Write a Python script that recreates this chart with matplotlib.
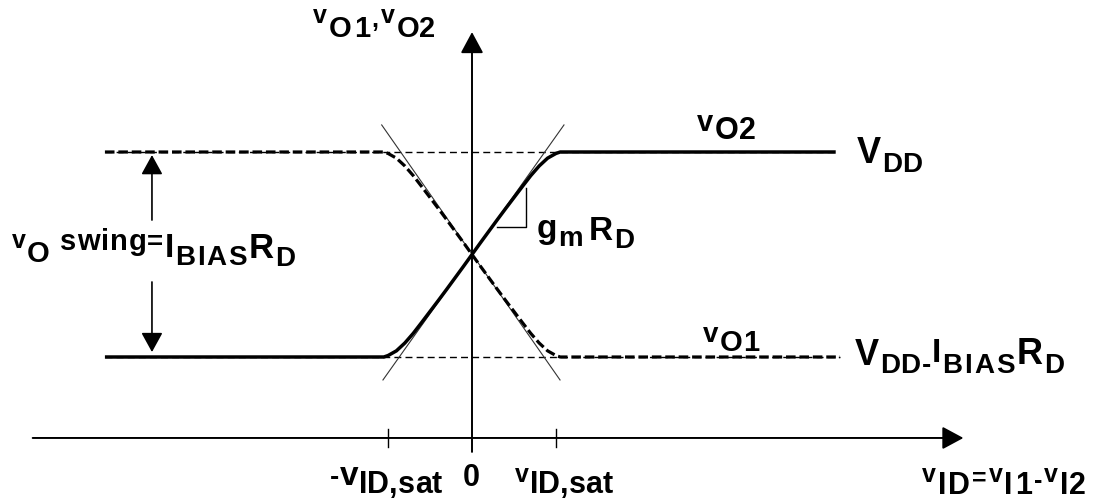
import matplotlib
matplotlib.use("Agg")
import matplotlib.pyplot as plt

W, H = 1099, 499
FONT = ["Liberation Sans", "DejaVu Sans"]
WEIGHT = "bold"

# ---------------- data (normalised units) ----------------
# x in units of v_ID,sat ; y: 0 = V_DD - I_BIAS*R_D, 1 = V_DD
VID_SAT = 1.0
V_HIGH = 1.0
V_LOW = 0.0
X_LEFT = -4.37
X_RIGHT = 4.33

vo2_x = [-4.37, -1.05, -1.0, -0.9, -0.8, -0.7, -0.6, -0.5, -0.4, -0.3, -0.2, -0.1, 0.0,
         0.1, 0.2, 0.3, 0.4, 0.5, 0.6, 0.7, 0.8, 0.9, 1.0, 1.05, 4.33]
vo2_y = [0.0, 0.0, 0.007, 0.03, 0.068, 0.115, 0.168, 0.222, 0.276, 0.331, 0.387, 0.443, 0.5,
         0.557, 0.613, 0.669, 0.724, 0.778, 0.832, 0.885, 0.932, 0.97, 0.993, 1.0, 1.0]

vo1_x = [-4.37, -1.05, -1.0, -0.9, -0.8, -0.7, -0.6, -0.5, -0.4, -0.3, -0.2, -0.1, 0.0,
         0.1, 0.2, 0.3, 0.4, 0.5, 0.6, 0.7, 0.8, 0.9, 1.0, 1.05, 4.38]
vo1_y = [1.0, 1.0, 0.993, 0.97, 0.932, 0.885, 0.832, 0.778, 0.724, 0.669, 0.613, 0.557, 0.5,
         0.443, 0.387, 0.331, 0.276, 0.222, 0.168, 0.115, 0.068, 0.03, 0.007, 0.0, 0.0]

# tangent lines (slope gm*RD) through the crossing point
tan_rise_x = [-1.06, 1.095]
tan_rise_y = [-0.112, 1.132]
tan_fall_x = [-1.075, 1.048]
tan_fall_y = [1.132, -0.112]

# axes of the diagram
XAXIS_Y = -0.395
XAXIS_X = [-5.23, 5.85]
YAXIS_Y = [-0.463, 1.585]
TICK_X = [-VID_SAT, VID_SAT]
TICK_HALF = 0.042

# slope triangle
slope_x = [0.30, 0.643, 0.643]
slope_y = [0.634, 0.634, 0.824]

# swing arrow
SWING_X = -3.81
swing_up = [(SWING_X, 0.668), (SWING_X, 0.985)]
swing_dn = [(SWING_X, 0.366), (SWING_X, 0.024)]

# ---------------- layout (pixel mapping) ----------------
OX, OY = 472, 357          # pixel position of (0, 0)
SX, SY = 84.0, 205.0       # pixels per unit

fig = plt.figure(figsize=(W / 100, H / 100), dpi=100, facecolor="white")
ax = fig.add_axes([0, 0, 1, 1])
ax.set_xlim(-OX / SX, (W - OX) / SX)
ax.set_ylim((OY - H) / SY, OY / SY)
ax.axis("off")

# reference dashed levels
ax.plot([X_LEFT, X_RIGHT], [V_HIGH, V_HIGH], color="black", lw=1.0, ls=(0, (5, 3)))
ax.plot([X_LEFT, 4.38], [V_LOW, V_LOW], color="black", lw=1.0, ls=(0, (5, 3)))

# tangents
ax.plot(tan_rise_x, tan_rise_y, color="#333333", lw=0.8)
ax.plot(tan_fall_x, tan_fall_y, color="#333333", lw=0.8)

# curves
ax.plot(vo1_x, vo1_y, color="black", lw=2.3, ls=(0, (3, 1.2)))
ax.plot(vo2_x, vo2_y, color="black", lw=2.5, solid_capstyle="butt")

# slope triangle
ax.plot(slope_x, slope_y, color="black", lw=1.0)

# axes
arrow_kw = dict(arrowstyle="-|>,head_length=0.65,head_width=0.35", mutation_scale=20,
                color="black", lw=1.4, shrinkA=0, shrinkB=0)
ax.annotate("", xy=(XAXIS_X[1], XAXIS_Y), xytext=(XAXIS_X[0], XAXIS_Y), arrowprops=arrow_kw)
ax.annotate("", xy=(0, YAXIS_Y[1]), xytext=(0, YAXIS_Y[0]), arrowprops=arrow_kw)
for tx in TICK_X:
    ax.plot([tx, tx], [XAXIS_Y - TICK_HALF, XAXIS_Y + TICK_HALF], color="black", lw=1.0)

# swing arrows
sw_kw = dict(arrowstyle="-|>,head_length=0.6,head_width=0.33", mutation_scale=20,
             color="black", lw=1.2, shrinkA=0, shrinkB=0)
ax.annotate("", xy=swing_up[1], xytext=swing_up[0], arrowprops=sw_kw)
ax.annotate("", xy=swing_dn[1], xytext=swing_dn[0], arrowprops=sw_kw)

# ---------------- rich text helper ----------------
renderer = fig.canvas.get_renderer()


def rich(x, parts):
    cx = x
    for s, size, base, tr in parts:
        for ch in s:
            if ch == " ":
                cx += size * 100 / 72 * 0.278 + tr
                continue
            t = fig.text(cx / W, 1 - base / H, ch, fontsize=size, family=FONT,
                         weight=WEIGHT, ha="left", va="baseline", color="black")
            cx += t.get_window_extent(renderer).width + tr
    return cx


# y-axis label
rich(313, [("v", 18, 23, 2.0), ("O1", 21, 37, 2.0), (",", 18, 27, 2.0),
           ("v", 18, 23, 2.0), ("O2", 21, 37, 0)])
# curve labels
rich(697, [("v", 21, 131, 1.0), ("O2", 22, 139, 1.0)])
rich(703, [("v", 20, 342, 1.0), ("O1", 21, 351, 1.0)])
# level labels
rich(857, [("V", 26, 163, 0.5), ("DD", 20, 172, 0.5)])
rich(855, [("V", 26, 365, 0.5), ("DD-", 20, 373, 1.0), ("I", 24, 362, 1.5),
           ("BIAS", 20, 373, 2.0), ("R", 26, 364, 1.0), ("D", 20, 373, 0)])
# swing label
rich(12, [("v", 18, 248, 1.0), ("O", 21, 262, 1.0), (" swing", 21, 250, 1.0),
          ("=", 20, 250, 1.0), ("I", 24, 257, 1.0), ("BIAS", 20, 265, 2.0),
          ("R", 25, 258, 1.0), ("D", 20, 266, 0)])
# gm RD
rich(537, [("g", 24, 238, 1.0), ("m", 20, 246, 6.0), ("R", 24, 240, 1.0), ("D", 20, 248, 0)])
# x tick labels
rich(330, [("-", 20, 485, 0.5), ("v", 24, 485, 0.5), ("ID,sat", 22, 493, 0.0)])
rich(463, [("0", 22, 486, 0)])
rich(515, [("v", 18, 482, 1.0), ("ID,sat", 22, 493, 0.0)])
# x-axis label
rich(922, [("v", 18, 482, 2.0), ("ID", 22, 494, 2.0), ("=", 18, 486, 2.0),
           ("v", 18, 482, 2.0), ("I1", 22, 494, 2.0), ("-", 18, 488, 2.0),
           ("v", 18, 482, 2.0), ("I2", 22, 494, 0)])

fig.savefig("out.png", dpi=100, facecolor="white")
